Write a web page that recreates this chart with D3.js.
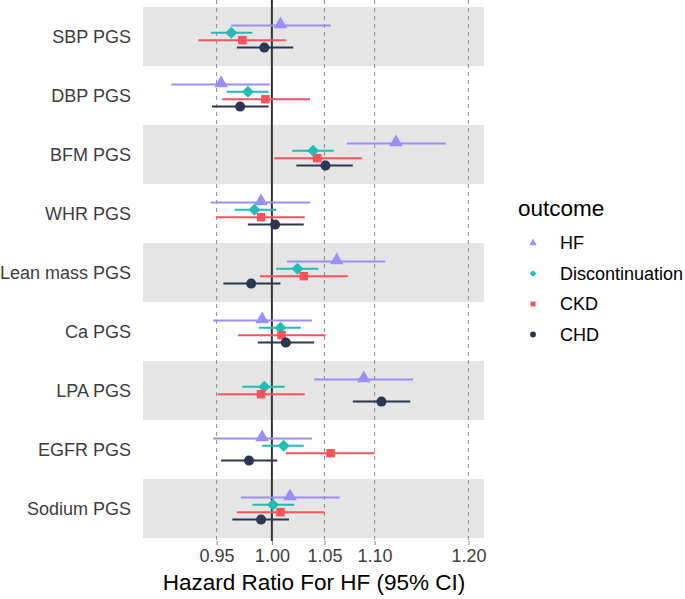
<!DOCTYPE html>
<html><head><meta charset="utf-8">
<script src="https://cdn.jsdelivr.net/npm/d3@7"></script>
<style>body{margin:0;background:#fff}svg{display:block}</style>
</head><body>
<svg id="c" width="685" height="599"></svg>
<script>
const categories = ["SBP PGS","DBP PGS","BFM PGS","WHR PGS","Lean mass PGS","Ca PGS","LPA PGS","EGFR PGS","Sodium PGS"];
const outcomes = ["HF","Discontinuation","CKD","CHD"];
const xTicks = [0.95,1.00,1.05,1.10,1.20];
// [estimate, lower, upper] per category
const hfValues = [[1.008,0.963,1.056],[0.954,0.911,0.998],[1.122,1.072,1.175],[0.990,0.945,1.036],[1.062,1.014,1.111],[0.991,0.947,1.038],[1.089,1.040,1.140],[0.991,0.947,1.038],[1.017,0.972,1.065]];
const discValues = [[0.963,0.945,0.982],[0.978,0.959,0.997],[1.039,1.019,1.059],[0.984,0.966,1.004],[1.024,1.004,1.044],[1.008,0.988,1.027],[0.993,0.973,1.012],[1.011,0.991,1.030],[1.001,0.982,1.021]];
const ckdValues = [[0.973,0.934,1.013],[0.994,0.955,1.036],[1.043,1.002,1.087],[0.990,0.950,1.031],[1.030,0.989,1.073],[1.009,0.969,1.051],[0.990,0.951,1.031],[1.056,1.013,1.100],[1.008,0.968,1.050]];
const chdValues = [[0.993,0.968,1.020],[0.971,0.946,0.997],[1.051,1.023,1.078],[1.003,0.978,1.030],[0.981,0.956,1.008],[1.013,0.987,1.040],[1.107,1.078,1.137],[0.979,0.954,1.005],[0.990,0.964,1.016]];
const seriesValues = [hfValues, discValues, ckdValues, chdValues];
const colors = ["#9a8ef8","#1fbdb5","#f9525b","#2b3653"];
const shapes = [d3.symbolTriangle, d3.symbolDiamond2, d3.symbolSquare, d3.symbolCircle];
const shapeSizes = [80, 92, 72, 80];
const legendSizes = [24, 28, 24, 26];
const FONT = "Arial, 'Liberation Sans', sans-serif";

const svg = d3.select("#c");
const pLeft = 143, pRight = 484, pTop = 0, pBottom = 541;
const x = d3.scaleLog().domain([0.8873, 1.2175]).range([pLeft, pRight]);
const y = d3.scaleBand().domain(categories).range([7, 538]).padding(0);
const dodge = d3.scaleBand().domain(outcomes).range([-y.bandwidth()*0.25, y.bandwidth()*0.25]).paddingInner(0).paddingOuter(0);
const off = o => dodge(o) + dodge.bandwidth()/2;

// bands
svg.append("g").selectAll("rect").data(categories.filter((d,i)=>i%2===0)).join("rect")
  .attr("x", pLeft).attr("width", pRight-pLeft)
  .attr("y", d=>y(d)).attr("height", y.bandwidth())
  .attr("fill", "#e5e5e5");

// dashed grid lines
svg.append("g").selectAll("line").data(xTicks.filter(t=>t!==1)).join("line")
  .attr("x1", d=>x(d)).attr("x2", d=>x(d)).attr("y1", pTop).attr("y2", pBottom)
  .attr("stroke", "#8c8c8c").attr("stroke-width", 1).attr("stroke-dasharray", "4,4");
svg.append("line").attr("x1", x(1)).attr("x2", x(1)).attr("y1", pTop).attr("y2", pBottom)
  .attr("stroke", "#333").attr("stroke-width", 2);

// series
seriesValues.forEach((vals, si) => {
  const o = outcomes[si];
  const g = svg.append("g");
  g.selectAll("line").data(vals).join("line")
    .attr("x1", d=>x(d[1])).attr("x2", d=>x(d[2]))
    .attr("y1", (d,i)=>y(categories[i])+y.bandwidth()/2+off(o))
    .attr("y2", (d,i)=>y(categories[i])+y.bandwidth()/2+off(o))
    .attr("stroke", colors[si]).attr("stroke-width", 2);
  g.selectAll("path").data(vals).join("path")
    .attr("d", d3.symbol().type(shapes[si]).size(shapeSizes[si]))
    .attr("transform", (d,i)=>`translate(${x(d[0])},${y(categories[i])+y.bandwidth()/2+off(o)+(si===0?-1:0)})`)
    .attr("fill", colors[si]);
});

// x axis
const xa = svg.append("g").attr("transform", `translate(0,${pBottom})`)
  .call(d3.axisBottom(x).tickValues(xTicks).tickFormat(d3.format(".2f")).tickSize(4).tickPadding(4));
xa.select(".domain").remove();
xa.selectAll(".tick line").attr("stroke", "#8c8c8c");
xa.selectAll("text").attr("fill", "#3d3d3d").style("font-family", FONT).style("font-size", "18px");

// y axis labels
svg.append("g").selectAll("text").data(categories).join("text")
  .attr("x", 131).attr("y", d=>y(d)+y.bandwidth()/2).attr("dy", "0.35em")
  .attr("text-anchor", "end").attr("fill", "#3d3d3d")
  .style("font-family", FONT).style("font-size", "18px")
  .text(d=>d);

// x title
svg.append("text").attr("x", 314).attr("y", 590).attr("text-anchor", "middle")
  .attr("fill", "#000").style("font-family", FONT).style("font-size", "22.5px")
  .text("Hazard Ratio For HF (95% CI)");

// legend
const lg = svg.append("g");
lg.append("text").attr("x", 518).attr("y", 216).attr("fill", "#000")
  .style("font-family", FONT).style("font-size", "22.5px").text("outcome");
outcomes.forEach((o, i) => {
  const yy = 243 + i*30.5;
  lg.append("path").attr("d", d3.symbol().type(shapes[i]).size(legendSizes[i])).attr("transform", `translate(533,${yy})`).attr("fill", colors[i]);
  lg.append("text").attr("x", 560).attr("y", yy).attr("dy", "0.35em").attr("fill", "#000")
    .style("font-family", FONT).style("font-size", "18px").text(o);
});
</script>
</body></html>
